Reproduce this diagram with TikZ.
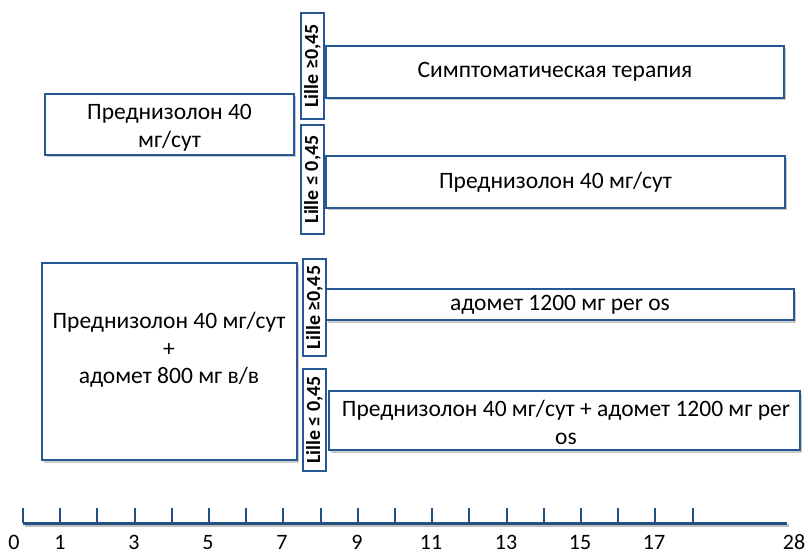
\documentclass[tikz,border=0pt]{standalone}
\usepackage{fontspec}
\setmainfont{Carlito}
\usetikzlibrary{shadows,calc}
\definecolor{boxblue}{RGB}{40,88,145}
\definecolor{axisblue}{RGB}{35,80,130}
\tikzset{
  box/.style={draw=boxblue, line width=1.6pt, fill=white, inner sep=0pt,
    drop shadow={shadow xshift=2pt, shadow yshift=-2.5pt, opacity=0.35, fill=black!60}},
  lillebox/.style={draw=boxblue, line width=1.6pt, fill=white, inner sep=0pt,
    rotate=90, font=\fontsize{20}{22}\selectfont\bfseries},
  btext/.style={font=\fontsize{23.5}{28}\selectfont, align=center, inner sep=0pt},
  ticklab/.style={font=\fontsize{22}{24}\selectfont, inner sep=0pt, anchor=base},
  axisline/.style={draw=axisblue, line width=3pt},
  tickline/.style={draw=axisblue, line width=2pt},
}
\begin{document}
\begin{tikzpicture}[x=1pt, y=-1pt]
\useasboundingbox (0,0) rectangle (808,553);
% left boxes
\node[box, minimum width=249pt, minimum height=61pt] (p1) at (169.5,124.5) {};
\node[btext] (p1t) at (169.5,128) {Преднизолон 40\\мг/сут};
\node[box, minimum width=255pt, minimum height=197pt] (p2) at (169.5,361.5) {};
\node[btext, font=\fontsize{23.5}{27.5}\selectfont] (p2t) at (169,350) {Преднизолон 40 мг/сут\\+\\адомет 800 мг в/в};
% Lille boxes
\node[lillebox, minimum width=106pt, minimum height=23pt] (l1) at (312.5,66) {Lille ≥0,45};
\node[lillebox, minimum width=109pt, minimum height=23pt] (l2) at (312.5,179.5) {Lille ≤ 0,45};
\node[lillebox, minimum width=97pt, minimum height=23pt] (l3) at (314.5,307.5) {Lille ≥0,45};
\node[lillebox, minimum width=102pt, minimum height=23pt] (l4) at (314.5,420) {Lille ≤ 0,45};
% right boxes
\node[box, minimum width=458pt, minimum height=52pt] (r1) at (555,72) {};
\node[btext] (r1t) at (r1.center) {Симптоматическая терапия};
\node[box, minimum width=459pt, minimum height=52pt] (r2) at (555.5,182) {};
\node[btext] (r2t) at (r2.center) {Преднизолон 40 мг/сут};
\node[box, minimum width=468pt, minimum height=31pt] (r3) at (560,304.5) {};
\node[btext] (r3t) at (560,305) {адомет 1200 мг per os};
\node[box, minimum width=471pt, minimum height=59pt] (r4) at (564.5,420.5) {};
\node[btext] (r4t) at (566,422) {Преднизолон 40 мг/сут + адомет 1200 мг per\\os};
% time axis
\coordinate (a0) at (23,523);
\coordinate (a1) at (787,523);
\draw[line width=3pt, draw=black!25] ($(a0)+(1.5,2)$) -- ($(a1)+(1.5,2)$);
\draw[axisline] (a0) -- (a1);
\foreach \k in {0,...,18} {
  \coordinate (t\k) at ({23+37.2*\k},523);
  \draw[tickline] (t\k) -- ++(0,-15);
}
\node[ticklab] (n0) at (14,549) {0};
\node[ticklab] (n1) at (60,549) {1};
\node[ticklab] (n3) at (134,549) {3};
\node[ticklab] (n5) at (208,549) {5};
\node[ticklab] (n7) at (282,549) {7};
\node[ticklab] (n9) at (357,549) {9};
\node[ticklab] (n11) at (431,549) {11};
\node[ticklab] (n13) at (506,549) {13};
\node[ticklab] (n15) at (580,549) {15};
\node[ticklab] (n17) at (654,549) {17};
\node[ticklab] (n28) at (794,549) {28};
\end{tikzpicture}
\end{document}
